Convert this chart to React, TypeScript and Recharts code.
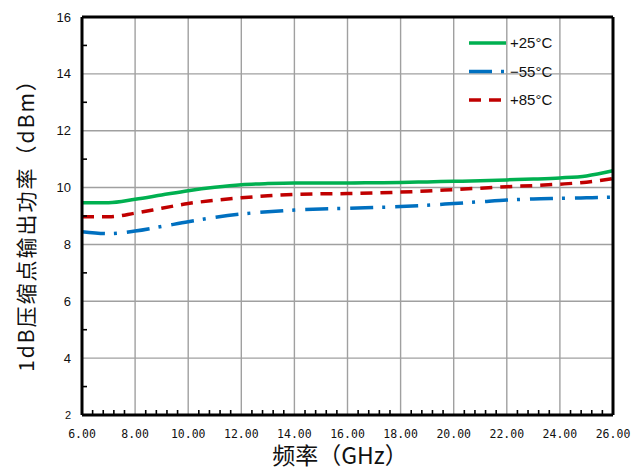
import React from "react";
import {
  LineChart,
  Line,
  XAxis,
  YAxis,
  CartesianGrid,
  Legend
} from "recharts";

// frequency points (GHz)
const freqs = [6, 7, 8, 9, 10, 11, 12, 13, 14, 15, 16, 17, 18, 19, 20, 21, 22, 23, 24, 25, 26];

// P-1dB output power (dBm)
const plus25 = [9.47, 9.47, 9.59, 9.74, 9.89, 10.01, 10.1, 10.14, 10.16, 10.16, 10.16, 10.17, 10.18, 10.2, 10.22, 10.24, 10.27, 10.3, 10.34, 10.41, 10.59];
const minus55 = [8.45, 8.38, 8.47, 8.63, 8.8, 8.95, 9.07, 9.15, 9.21, 9.25, 9.27, 9.3, 9.33, 9.38, 9.44, 9.5, 9.56, 9.6, 9.62, 9.64, 9.66];
const plus85 = [8.97, 8.97, 9.1, 9.27, 9.44, 9.55, 9.64, 9.71, 9.76, 9.78, 9.79, 9.81, 9.84, 9.88, 9.93, 9.98, 10.03, 10.07, 10.12, 10.19, 10.32];

const seriesNames = ["+25°C", "−55°C", "+85°C"];

const xTicks = [6, 8, 10, 12, 14, 16, 18, 20, 22, 24, 26];
const yTicks = [2, 4, 6, 8, 10, 12, 14, 16];
const yMinorTicks = [3, 5, 7, 9, 11, 13, 15];
const xMinorTicks = xTicks.slice(0, -1).flatMap((t) => [0.4, 0.8, 1.2, 1.6].map((d) => +(t + d).toFixed(1)));

const xAllTicks = [...xTicks, ...xMinorTicks].sort((a, b) => a - b);
const yAllTicks = [...yTicks, ...yMinorTicks].sort((a, b) => a - b);

const data = freqs.map((f, i) => ({
  freq: f,
  p25: plus25[i],
  m55: minus55[i],
  p85: plus85[i]
}));

const empty = () => <g />;

const X_GAP = 15; // tickSize + tickMargin of the bottom axis
const Y_GAP = 11; // tickSize + tickMargin of the left axis

function XTick(props: any) {
  const { x, y, payload } = props;
  if (!xTicks.includes(payload.value)) {
    const ay = y - X_GAP;
    return <line x1={x} x2={x} y1={ay - 1} y2={ay - 5} stroke="#000" strokeWidth={1.6} />;
  }
  return (
    <text
      x={x}
      y={y}
      dy="0.71em"
      textAnchor="middle"
      fontFamily="'DejaVu Sans Mono', monospace"
      fontSize={11.5}
      fill="#111"
    >
      {payload.value.toFixed(2)}
    </text>
  );
}

function YTick(props: any) {
  const { x, y, payload } = props;
  if (!yTicks.includes(payload.value)) {
    const ax = x + Y_GAP;
    return <line x1={ax + 1} x2={ax + 5} y1={y} y2={y} stroke="#000" strokeWidth={1.6} />;
  }
  return (
    <text
      x={x}
      y={y}
      dy="0.35em"
      textAnchor="end"
      fontFamily="'Liberation Sans', Arial, sans-serif"
      fontSize={payload.value === 2 ? 11 : 13}
      fill="#111"
    >
      {payload.value}
    </text>
  );
}

function LegendBox(props: any) {
  // keep the order of the series as in the picture
  const items = [...(props.payload || [])].sort(
    (a: any, b: any) => seriesNames.indexOf(a.value) - seriesNames.indexOf(b.value)
  );
  return (
    <svg width={150} height={90}>
      {items.map((it: any, i: number) => {
        const y = 15 + i * 28.5;
        return (
          <g key={i}>
            <line
              x1={7}
              x2={44}
              y1={y}
              y2={y}
              stroke={it.color}
              strokeWidth={3.5}
              strokeDasharray={it.payload?.strokeDasharray}
            />
            <text
              x={48}
              y={y}
              dy="0.36em"
              fontFamily="'Liberation Sans', Arial, sans-serif"
              fontSize={15}
              fill="#111"
            >
              {it.value}
            </text>
          </g>
        );
      })}
    </svg>
  );
}

const xLabel = () => (
  <text
    x={340}
    y={464}
    textAnchor="middle"
    fontFamily="'Noto Sans CJK SC', sans-serif"
    fontSize={23}
    fill="#111"
  >
    频率（GHz）
  </text>
);

const yLabel = () => (
  <text
    x={25}
    y={220}
    transform="rotate(-90 25 220)"
    textAnchor="middle"
    dominantBaseline="central"
    fontFamily="'Noto Sans CJK SC', sans-serif"
    fontSize={21}
    letterSpacing={2}
    fill="#111"
  >
    1dB压缩点输出功率（dBm）
  </text>
);

export default function App() {
  return (
    <div style={{ position: "absolute", left: 0, top: 0, background: "#fff" }}>
      <LineChart
        width={635}
        height={471}
        data={data}
        margin={{ top: 17, right: 22, bottom: 0, left: 0 }}
      >
        <CartesianGrid
          stroke="#a0a0a0"
          strokeWidth={1.4}
          verticalValues={xTicks}
          horizontalValues={yTicks}
        />

        <XAxis
          dataKey="freq"
          type="number"
          domain={[6, 26]}
          ticks={xAllTicks}
          interval={0}
          height={56}
          tickLine={{ stroke: "none" }}
          tickSize={6}
          tickMargin={X_GAP - 6}
          tick={<XTick />}
          axisLine={{ stroke: "#000", strokeWidth: 3 }}
          label={xLabel}
        />
        <XAxis
          xAxisId="top"
          dataKey="freq"
          orientation="top"
          type="number"
          domain={[6, 26]}
          ticks={xTicks}
          interval={0}
          mirror
          tick={empty}
          tickLine={false}
          axisLine={{ stroke: "#000", strokeWidth: 3 }}
        />

        <YAxis
          type="number"
          domain={[2, 16]}
          ticks={yAllTicks}
          interval={0}
          width={82}
          tickLine={{ stroke: "none" }}
          tickSize={6}
          tickMargin={Y_GAP - 6}
          tick={<YTick />}
          axisLine={{ stroke: "#000", strokeWidth: 3 }}
          label={yLabel}
        />
        <YAxis
          yAxisId="right"
          orientation="right"
          type="number"
          domain={[2, 16]}
          ticks={yTicks}
          interval={0}
          mirror
          width={10}
          tick={empty}
          tickLine={false}
          axisLine={{ stroke: "#000", strokeWidth: 3 }}
        />

        <Legend
          layout="vertical"
          align="center"
          verticalAlign="middle"
          wrapperStyle={{ left: 462, top: 28, width: 150, height: 90 }}
          content={<LegendBox />}
        />

        <Line
          name={seriesNames[0]}
          dataKey="p25"
          type="monotone"
          stroke="#00b050"
          strokeWidth={3.5}
          dot={false}
          isAnimationActive={false}
        />
        <Line
          name={seriesNames[1]}
          dataKey="m55"
          type="monotone"
          stroke="#0070c0"
          strokeWidth={3.5}
          strokeDasharray="23 9 3 10"
          dot={false}
          isAnimationActive={false}
        />
        <Line
          name={seriesNames[2]}
          dataKey="p85"
          type="monotone"
          stroke="#c00000"
          strokeWidth={3.5}
          strokeDasharray="12 8"
          dot={false}
          isAnimationActive={false}
        />
      </LineChart>
    </div>
  );
}
